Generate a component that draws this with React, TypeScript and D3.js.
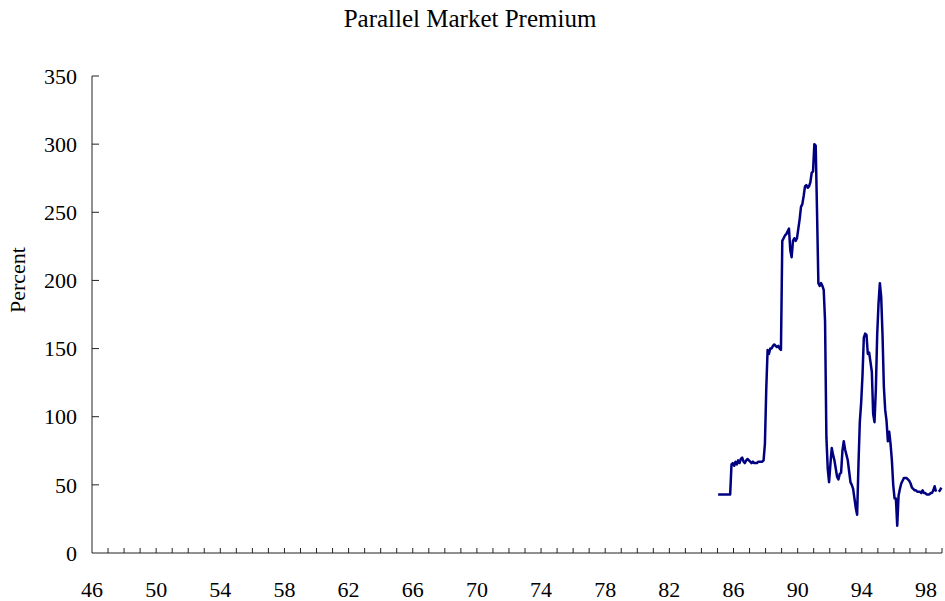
import React from 'react';
import * as d3 from 'd3';

// Monthly parallel market premium (percent), Jan 1985 - Dec 1998
const startYear = 85;
const premium: (number | null)[] = [
  // 85
  43, 43, 43, 43, 43, 43, 43, 43, 43, 43, 65, 66,
  // 86
  64, 67, 65, 68, 66, 69, 70, 67, 66, 68, 69, 68,
  // 87
  67, 66, 67, 66, 66, 66, 67, 67, 67, 67, 68, 80,
  // 88
  120, 149, 146, 150, 150, 152, 153, 152, 151, 152, 150, 149,
  // 89
  229, 231, 233, 234, 236, 238, 222, 217, 229, 231, 229, 231,
  // 90
  238, 245, 254, 256, 262, 269, 270, 268, 269, 272, 279, 280,
  // 91
  300, 299, 250, 198, 196, 198, 196, 193, 170, 85, 62, 52,
  // 92
  65, 77, 72, 68, 62, 56, 54, 58, 59, 75, 82, 76,
  // 93
  72, 68, 60, 52, 50, 47, 40, 33, 28, 65, 96, 110,
  // 94
  130, 158, 161, 160, 146, 147, 140, 133, 102, 96, 120, 160,
  // 95
  183, 198, 188, 160, 122, 105, 97, 82, 89, 80, 68, 50,
  // 96
  40, 40, 20, 42, 47, 51, 53, 55, 55, 55, 54, 53,
  // 97
  51, 48, 47, 46, 46, 45, 45, 45, 44, 46, 44, 44,
  // 98
  43, 43, 43, 44, 44, 46, 49, 45, null, 45, 46, 48,
];

const xLabels = ['46', '50', '54', '58', '62', '66', '70', '74', '78', '82', '86', '90', '94', '98'];
const yTicks = [0, 50, 100, 150, 200, 250, 300, 350];

const W = 945;
const H = 601;

export default function App() {
  const x = d3.scaleLinear().domain([46, 99]).range([92, 942]);
  const y = d3.scaleLinear().domain([0, 350]).range([553, 76]);

  const pts = premium.map((v, i) => ({ t: startYear + (i + 0.5) / 12, v }));
  const line = d3
    .line<{ t: number; v: number | null }>()
    .defined((d) => d.v !== null)
    .x((d) => x(d.t))
    .y((d) => y(d.v as number));

  const yearTicks = d3.range(47, 100);
  const font = '"Liberation Serif", "Times New Roman", serif';

  return (
    <svg
      width={W}
      height={H}
      style={{ position: 'absolute', left: 0, top: 0, background: '#fff' }}
      fontFamily={font}
    >
      <text x={470} y={27} textAnchor="middle" fontSize={25} fill="#000">
        Parallel Market Premium
      </text>

      {/* y axis */}
      <line x1={x(46)} x2={x(46)} y1={y(350)} y2={y(0)} stroke="#222" strokeWidth={1} />
      {yTicks.map((t) => (
        <g key={t}>
          {t > 0 && (
            <line x1={x(46)} x2={x(46) + 7} y1={y(t)} y2={y(t)} stroke="#222" strokeWidth={1} />
          )}
          <text x={77} y={y(t)} dy="0.35em" textAnchor="end" fontSize={22} fill="#000">
            {t}
          </text>
        </g>
      ))}
      <text
        transform={`translate(25,${280}) rotate(-90)`}
        textAnchor="middle"
        fontSize={22}
        fill="#000"
      >
        Percent
      </text>

      {/* x axis */}
      <line x1={x(46)} x2={x(99)} y1={y(0)} y2={y(0)} stroke="#222" strokeWidth={1} />
      {yearTicks.map((t) => (
        <line key={t} x1={x(t)} x2={x(t)} y1={y(0)} y2={y(0) - 5} stroke="#222" strokeWidth={1} />
      ))}
      {xLabels.map((l) => (
        <text key={l} x={x(+l)} y={597} textAnchor="middle" fontSize={22} fill="#000">
          {l}
        </text>
      ))}

      <path d={line(pts) || ''} fill="none" stroke="#000080" strokeWidth={2.5} strokeLinejoin="round" />
    </svg>
  );
}
